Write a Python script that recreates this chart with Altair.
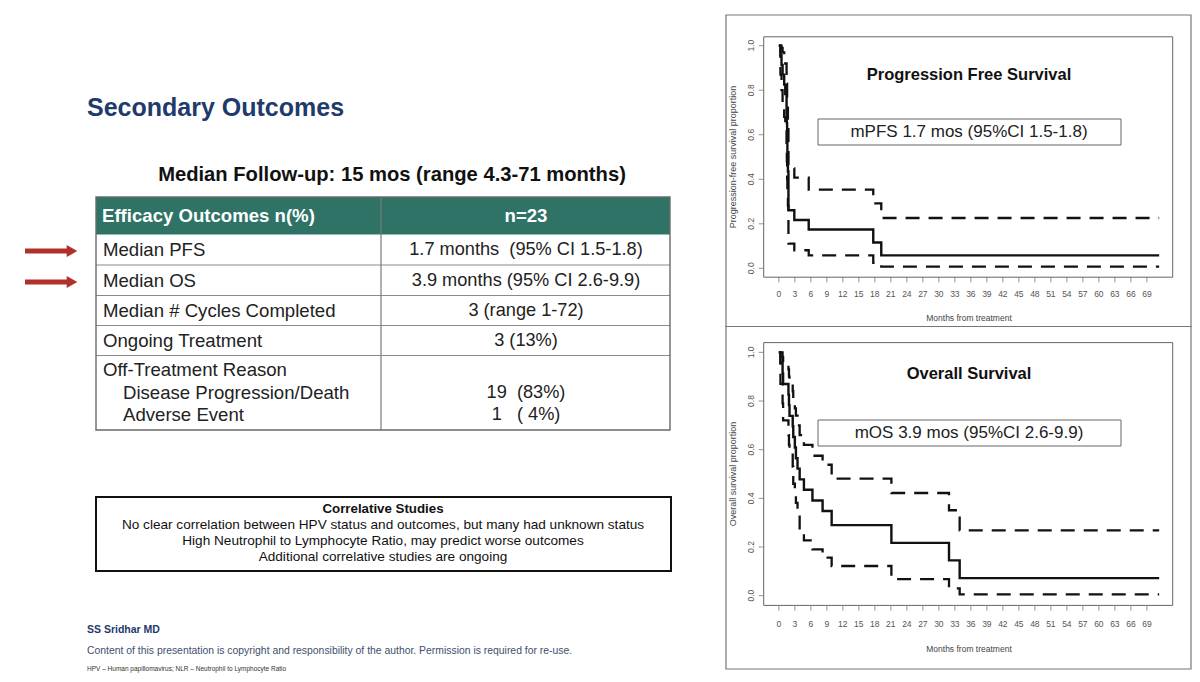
import altair as alt
import pandas as pd

# ---------------------------------------------------------------
# Kaplan-Meier estimates read as step functions (months, proportion)
# ---------------------------------------------------------------
pfs_time = [0, 0.3, 0.5, 0.7, 1.0, 1.2, 1.45, 1.5, 1.55, 1.6, 1.7, 1.8, 2.9, 5.6, 17.7, 19.2, 71.3]
pfs_surv = [1.0, 0.957, 0.913, 0.870, 0.826, 0.783, 0.696, 0.652, 0.565, 0.522, 0.435, 0.261,
            0.217, 0.174, 0.116, 0.058, 0.058]
pfs_upper = [1.0, 1.0, 0.99, 0.97, 0.95, 0.92, 0.86, 0.83, 0.76, 0.72, 0.63, 0.449,
             0.407, 0.353, 0.292, 0.226, 0.226]
pfs_lower = [1.0, 0.87, 0.80, 0.74, 0.68, 0.62, 0.52, 0.48, 0.40, 0.36, 0.28, 0.111,
             0.081, 0.058, 0.024, 0.0075, 0.0075]

os_time = [0, 0.3, 0.7, 0.8, 1.8, 1.9, 2.0, 2.6, 2.7, 3.0, 3.2, 3.5, 3.9, 4.7, 6.3, 8.2,
           9.9, 21.1, 31.9, 33.9, 71.3]
os_surv = [1.0, 0.957, 0.913, 0.870, 0.826, 0.783, 0.739, 0.696, 0.652, 0.609, 0.565, 0.522,
           0.478, 0.435, 0.391, 0.348, 0.290, 0.217, 0.145, 0.072, 0.072]
os_upper = [1.0, 1.0, 0.98, 0.957, 0.93, 0.90, 0.874, 0.84, 0.80, 0.77, 0.74, 0.70,
            0.66, 0.62, 0.575, 0.538, 0.481, 0.422, 0.351, 0.268, 0.268]
os_lower = [1.0, 0.87, 0.79, 0.72, 0.66, 0.62, 0.593, 0.53, 0.46, 0.43, 0.381, 0.34,
            0.268, 0.227, 0.19, 0.156, 0.122, 0.068, 0.03, 0.005, 0.005]

month_ticks = list(range(0, 70, 3))
prop_ticks = [0.0, 0.2, 0.4, 0.6, 0.8, 1.0]

# ---------------------------------------------------------------
# Slide text
# ---------------------------------------------------------------
NB = "\u00a0"
slide_title = "Secondary Outcomes"
followup = "Median Follow-up: 15 mos (range 4.3-71 months)"
table_header = ["Efficacy Outcomes n(%)", "n=23"]
row_labels = ["Median PFS", "Median OS", "Median # Cycles Completed", "Ongoing Treatment"]
row_values = [f"1.7 months{NB}{NB}(95% CI 1.5-1.8)", "3.9 months (95% CI 2.6-9.9)",
              "3 (range 1-72)", "3 (13%)"]
off_label = "Off-Treatment Reason"
off_reasons = ["Disease Progression/Death", "Adverse Event"]
off_values = [f"19{NB}{NB}(83%)", f"1{NB}{NB}{NB}({NB}4%)"]
corr_title = "Correlative Studies"
corr_lines = [
    "No clear correlation between HPV status and outcomes, but many had unknown status",
    "High Neutrophil to Lymphocyte Ratio, may predict worse outcomes",
    "Additional correlative studies are ongoing",
]
author = "SS Sridhar MD"
copyright_note = ("Content of this presentation is copyright and responsibility of the author. "
                  "Permission is required for re-use.")
abbrev = "HPV \u2013 Human papillomavirus; NLR \u2013 Neutrophil to Lymphocyte Ratio"
pfs_title, os_title = "Progression Free Survival", "Overall Survival"
pfs_note, os_note = "mPFS 1.7 mos (95%CI 1.5-1.8)", "mOS 3.9 mos (95%CI 2.6-9.9)"
pfs_ylab, os_ylab = "Progression-free survival proportion", "Overall survival proportion"
xlab = "Months from treatment"

# ---------------------------------------------------------------
# Page layout (pixels on a 1200 x 682 canvas)
# ---------------------------------------------------------------
W, H = 1200, 682
FONT = "Liberation Sans"
NAVY = "#1f3b6b"
TEAL = "#2e7366"
RED = "#b0302a"

PX = alt.Scale(domain=[0, W], range=[0, W], nice=False, zero=False)
PY = alt.Scale(domain=[0, H], range=[0, H], nice=False, zero=False)

TBL_L, TBL_R, TBL_MID = 96, 670, 381
TBL_TOP, HDR_BOT, TBL_BOT = 197, 234.5, 430
row_lines_y = [265, 295.5, 325.5, 355.5]
row_text_y = [250, 281, 311, 341]
off_text_y = [370, 393, 415]
VAL_X = 526
arrow_y = [251, 282]

# km plot regions: x limits are R's 4% expanded [0, 71]
KM_XLIM = [-2.84, 73.84]
KM_YLIM = [-0.04, 1.04]
KM_XRANGE = [763.7, 1172.7]
PFS_YRANGE = [277.2, 36.8]
OS_YRANGE = [605.4, 342.6]


def pos(xf, yf):
    return dict(x=alt.X(xf, scale=PX, axis=None), y=alt.Y(yf, scale=PY, axis=None))


def text_layer(xs, ys, texts, **mark):
    df = pd.DataFrame({"px": xs, "py": ys, "text": texts})
    base = dict(font=FONT, baseline="middle")
    base.update(mark)
    return alt.Chart(df).mark_text(**base).encode(**pos("px:Q", "py:Q"), text="text:N")


def rect_layer(x0, x1, y0, y1, **mark):
    df = pd.DataFrame({"x0": x0, "x1": x1, "y0": y0, "y1": y1})
    return alt.Chart(df).mark_rect(**mark).encode(
        **pos("x0:Q", "y0:Q"), x2="x1:Q", y2="y1:Q")


def rule_layer(x0, x1, y0, y1, **mark):
    df = pd.DataFrame({"x0": x0, "x1": x1, "y0": y0, "y1": y1})
    return alt.Chart(df).mark_rule(**mark).encode(
        **pos("x0:Q", "y0:Q"), x2="x1:Q", y2="y1:Q")


n_rows = len(row_lines_y)
slide = alt.layer(
    # heading and follow-up line
    text_layer([87], [108], [slide_title], fontSize=25, fontWeight="bold", color=NAVY, align="left"),
    text_layer([392], [175], [followup], fontSize=20.2, fontWeight="bold", color="#111", align="center"),
    # table
    rect_layer([TBL_L], [TBL_R], [TBL_TOP], [HDR_BOT], fill=TEAL),
    rule_layer([TBL_L] * n_rows, [TBL_R] * n_rows, row_lines_y, row_lines_y, color="#8a8a8a", strokeWidth=1.2),
    rule_layer([TBL_MID], [TBL_MID], [TBL_TOP], [TBL_BOT], color="#7a7a7a", strokeWidth=1.2),
    rect_layer([TBL_L], [TBL_R], [TBL_TOP], [TBL_BOT], fillOpacity=0, stroke="#6a6a6a", strokeWidth=1.4),
    text_layer([102], [216], [table_header[0]], fontSize=18.6, fontWeight="bold", color="white", align="left"),
    text_layer([VAL_X], [216], [table_header[1]], fontSize=18.6, fontWeight="bold", color="white", align="center"),
    text_layer([103] * len(row_labels), row_text_y, row_labels, fontSize=18.6, color="#222", align="left"),
    text_layer([VAL_X] * len(row_values), row_text_y, row_values, fontSize=18.2, color="#222", align="center"),
    text_layer([103], [off_text_y[0]], [off_label], fontSize=18.6, color="#222", align="left"),
    text_layer([123] * 2, off_text_y[1:], off_reasons, fontSize=18.6, color="#222", align="left"),
    text_layer([VAL_X] * 2, off_text_y[1:], off_values, fontSize=18.2, color="#222", align="center"),
    # arrows pointing at the two median rows
    rule_layer([25] * 2, [68] * 2, arrow_y, arrow_y, color=RED, strokeWidth=5),
    alt.Chart(pd.DataFrame({"px": [72] * 2, "py": arrow_y})).mark_point(
        shape="triangle-right", filled=True, color=RED, size=150, opacity=1).encode(**pos("px:Q", "py:Q")),
    # correlative studies box
    rect_layer([96], [671], [497], [571], fillOpacity=0, stroke="#111", strokeWidth=2),
    text_layer([383], [509], [corr_title], fontSize=13.3, fontWeight="bold", color="#111", align="center"),
    text_layer([383] * 3, [525, 541, 557], corr_lines, fontSize=13.6, color="#111", align="center"),
    # footer
    text_layer([87], [630], [author], fontSize=10.5, fontWeight="bold", color=NAVY, align="left"),
    text_layer([87], [651], [copyright_note], fontSize=10.4, color="#3d4f6e", align="left"),
    text_layer([87], [669], [abbrev], fontSize=6.5, color="#333", align="left"),
    # figure frames on the right
    rect_layer([726, 726], [1191, 1191], [15, 326.5], [326.5, 669], fillOpacity=0, stroke="#777", strokeWidth=1.2),
    # figure titles, notes and axis titles
    text_layer([969, 969], [75, 374], [pfs_title, os_title], fontSize=16.5, fontWeight="bold", color="#111", align="center"),
    rect_layer([818, 818], [1121, 1121], [119, 420], [145, 446], fillOpacity=0, stroke="#666", strokeWidth=1),
    text_layer([969, 969], [132, 433], [pfs_note, os_note], fontSize=17, color="#222", align="center"),
    text_layer([969, 969], [318, 649], [xlab, xlab], fontSize=8.5, color="#444", align="center"),
    text_layer([733], [157], [pfs_ylab], fontSize=9, color="#444", align="center", angle=270),
    text_layer([733], [474], [os_ylab], fontSize=9, color="#444", align="center", angle=270),
)


def km_panel(time, surv, upper, lower, yrange, label_offset):
    kx = alt.Scale(domain=KM_XLIM, range=KM_XRANGE, nice=False, zero=False)
    ky = alt.Scale(domain=KM_YLIM, range=yrange, nice=False, zero=False)
    X = lambda f: alt.X(f, scale=kx, axis=None)
    Y = lambda f: alt.Y(f, scale=ky, axis=None)

    est = pd.DataFrame({"month": time, "p": surv})
    ci = pd.concat([
        pd.DataFrame({"month": time, "p": upper, "band": "upper"}),
        pd.DataFrame({"month": time, "p": lower, "band": "lower"}),
    ])
    box = pd.DataFrame({"x0": [KM_XLIM[0]], "x1": [KM_XLIM[1]], "y0": [KM_YLIM[0]], "y1": [KM_YLIM[1]]})
    xt = pd.DataFrame({"m": month_ticks, "lab": [str(m) for m in month_ticks], "base": KM_YLIM[0]})
    yt = pd.DataFrame({"v": prop_ticks, "lab": [f"{v:.1f}" for v in prop_ticks], "base": KM_XLIM[0]})

    return alt.layer(
        alt.Chart(box).mark_rect(fillOpacity=0, stroke="#666", strokeWidth=1).encode(
            x=X("x0:Q"), x2="x1:Q", y=Y("y0:Q"), y2="y1:Q"),
        alt.Chart(ci).mark_line(interpolate="step-after", color="#111", strokeWidth=2.3,
                                strokeDash=[14, 9]).encode(x=X("month:Q"), y=Y("p:Q"), detail="band:N"),
        alt.Chart(est).mark_line(interpolate="step-after", color="#111", strokeWidth=2.4).encode(
            x=X("month:Q"), y=Y("p:Q")),
        # x axis ticks and labels
        alt.Chart(xt).mark_tick(orient="vertical", size=5, thickness=1, color="#666", yOffset=2.5).encode(
            x=X("m:Q"), y=Y("base:Q")),
        alt.Chart(xt).mark_text(font=FONT, fontSize=8.5, color="#555", baseline="middle",
                                yOffset=label_offset).encode(x=X("m:Q"), y=Y("base:Q"), text="lab:N"),
        # y axis ticks and rotated labels
        alt.Chart(yt).mark_tick(orient="horizontal", size=5, thickness=1, color="#666", xOffset=-2.5).encode(
            x=X("base:Q"), y=Y("v:Q")),
        alt.Chart(yt).mark_text(font=FONT, fontSize=8.5, color="#555", baseline="middle", align="center",
                                angle=270, xOffset=-13).encode(x=X("base:Q"), y=Y("v:Q"), text="lab:N"),
    )


pfs = km_panel(pfs_time, pfs_surv, pfs_upper, pfs_lower, PFS_YRANGE, 17)
os_ = km_panel(os_time, os_surv, os_upper, os_lower, OS_YRANGE, 19)

chart = alt.layer(slide, pfs, os_).resolve_scale(
    x="independent", y="independent"
).properties(
    width=W, height=H, padding=0, background="white",
    autosize=alt.AutoSizeParams(type="none"),
).configure_view(strokeWidth=0)

chart.save("out.html", embed_options={"renderer": "svg", "actions": False})
